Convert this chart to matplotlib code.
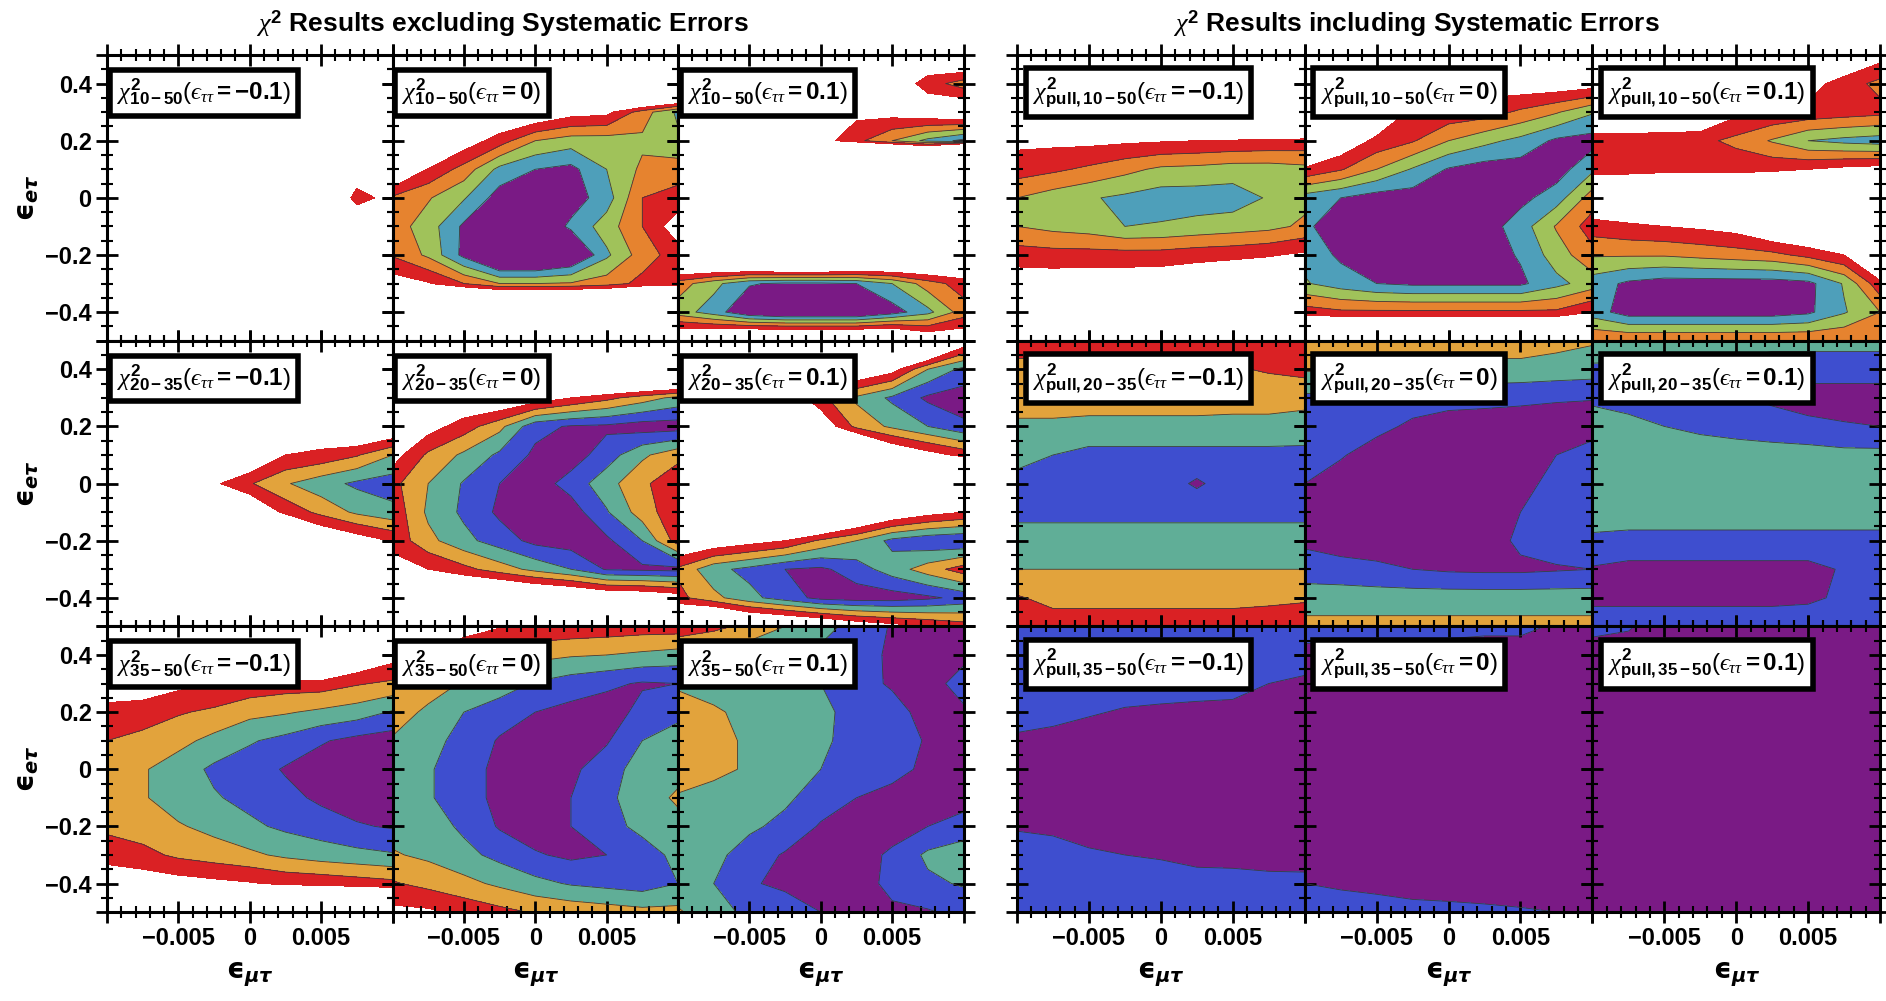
import numpy as np
import matplotlib.pyplot as plt
from matplotlib.ticker import MultipleLocator, FixedLocator, FixedFormatter

plt.rcParams['font.family'] = ['Liberation Sans', 'DejaVu Sans']
plt.rcParams['mathtext.fontset'] = 'custom'
plt.rcParams['mathtext.rm'] = 'Liberation Sans'
plt.rcParams['mathtext.it'] = 'Liberation Serif:italic'
plt.rcParams['mathtext.bf'] = 'Liberation Sans:bold'
plt.rcParams['mathtext.fallback'] = 'stix'

# scan grid (columns: eps_mu_tau, rows: eps_e_tau from top to bottom)
eps_mt = [-0.01, -0.0075, -0.005, -0.0025, 0.0, 0.0025, 0.005, 0.0075, 0.01]
eps_et = [0.5, 0.4, 0.3, 0.2, 0.1, 0.0, -0.1, -0.2, -0.3, -0.4, -0.5]

# confidence band index: 0 = best region ... 4 = outermost, > 4.5 excluded
chi_10_50_m = [
    [9, 9, 9, 9, 9, 9, 9, 9, 9],
    [9, 9, 9, 9, 9, 9, 9, 9, 9],
    [9, 9, 9, 9, 9, 9, 9, 9, 9],
    [9, 9, 9, 9, 9, 9, 9, 9, 9],
    [9, 9, 9, 9, 9, 9, 9, 5.5, 9],
    [9, 9, 9, 9, 9, 9, 7, 4.0, 5.0],
    [9, 9, 9, 9, 9, 9, 9, 6, 9],
    [9, 9, 9, 9, 9, 9, 9, 9, 9],
    [9, 9, 9, 9, 9, 9, 9, 9, 9],
    [9, 9, 9, 9, 9, 9, 9, 9, 9],
    [9, 9, 9, 9, 9, 9, 9, 9, 9],
]
chi_10_50_0 = [
    [9, 9, 9, 9, 9, 9, 9, 9, 9],
    [9, 9, 9, 9, 9, 9, 9, 12, 12],
    [9, 9, 9, 6, 5.8, 5.0, 4.8, 3.0, 1.3],
    [9, 9, 5.2, 4, 2.5, 2, 2, 2.3, 1.7],
    [6.5, 4.4, 3.1, 1.2, 0.5, 0.2, 1.5, 2.7, 3.0],
    [3.3, 2.6, 1.6, 0, -0.5, 0, 1.0, 3.5, 3.9],
    [3, 2, 0.3, -0.5, -0.5, 0.7, 2, 3.5, 5.2],
    [3.4, 2.3, 0.2, -2, -2, -1, 1.3, 3, 4.0],
    [5.1, 4.6, 3.5, 2.5, 2.5, 2.6, 3.0, 3.8, 4.1],
    [9, 12, 12, 12, 12, 12, 12, 12, 12],
    [9, 9, 9, 9, 9, 9, 9, 9, 9],
]
chi_10_50_p = [
    [9, 9, 9, 9, 9, 9, 9, 5.8, 6.8],
    [9, 9, 9, 9, 9, 9, 5.5, 4.0, 3.0],
    [9, 9, 9, 9, 9, 4.8, 5.0, 5.5, 6.0],
    [9, 9, 9, 9, 5.0, 3.8, 2.5, 1.2, 0.2],
    [20, 20, 20, 20, 20, 20, 20, 20, 40],
    [9, 9, 9, 9, 9, 9, 9, 9, 9],
    [9, 9, 9, 9, 9, 9, 9, 9, 9],
    [8, 9, 10, 10.8, 10.8, 10, 9, 8, 7],
    [3, 1.8, 0.6, 0.3, 0.3, 0.5, 1.5, 3, 4],
    [2, 1.0, -0.5, -1, -1, -1, 0, 1.2, 3],
    [6.5, 7, 8, 8.2, 8.2, 8.2, 8, 6, 5.7],
]
chi_20_35_m = [
    [9, 9, 9, 9, 9, 9, 9, 9, 9],
    [9, 9, 9, 9, 9, 9, 9, 9, 9],
    [9, 9, 9, 9, 9, 9, 9, 9, 9],
    [9, 9, 9, 9, 9, 9, 5.7, 6.6, 6],
    [9, 9, 9, 9, 6, 4.5, 4.2, 3.6, 2.5],
    [9, 9, 9, 4.7, 3.6, 2.6, 1.9, 1.3, 1.0],
    [9, 9, 9, 9, 6, 4.2, 3.2, 2.3, 1.8],
    [9, 9, 9, 9, 9, 9, 6, 5.2, 4.4],
    [9, 9, 9, 9, 9, 9, 9, 9, 9],
    [9, 9, 9, 9, 9, 9, 9, 9, 9],
    [9, 9, 9, 9, 9, 9, 9, 9, 9],
]
chi_20_35_0 = [
    [9, 9, 9, 9, 9, 9, 9, 9, 9],
    [9, 9, 9, 9, 9, 9, 10, 10, 10],
    [9, 9, 5.7, 5.9, 5.3, 4.5, 3.8, 3.0, 2.2],
    [9, 5, 4.0, 2.8, 0.8, 0.4, 0.3, 0, 0],
    [5.0, 3.3, 2.3, 1.3, 0.3, 0, 1.0, 2.3, 3.2],
    [3.8, 2.5, 1.4, 0.5, 0, 0.9, 2.1, 3.3, 4.2],
    [4.2, 2.3, 1.3, 0.3, 0, 0, 1.4, 3.0, 4.2],
    [4.2, 2.8, 1.8, 1.0, 0.2, 0, 0.3, 1.5, 4.0],
    [4.9, 4.5, 3.8, 3.0, 2.2, 1.5, 0.4, 0.3, 0.2],
    [9, 9, 7.3, 7.3, 6.8, 6.5, 6, 5.8, 5.3],
    [9, 9, 9, 9, 9, 9, 9, 9, 9],
]
chi_20_35_p = [
    [9, 9, 9, 9, 9, 9, 9, 9, 5.5],
    [9, 9, 9, 9, 9, 6, 5.0, 2.5, 1.2],
    [9, 9, 9, 5.5, 3.8, 2.3, 1.3, 0.3, 0],
    [9, 9, 9, 9, 5.5, 3.2, 2.3, 1.5, 0.7],
    [9, 9, 9, 9, 9, 9, 6, 5, 4.2],
    [9, 9, 9, 9, 9, 9, 9, 9, 9],
    [9, 9, 9, 9, 9, 7, 5.8, 5.0, 4.5],
    [6, 5.5, 5, 4.5, 3.3, 2.5, 1.2, 0.7, 0.5],
    [3.3, 1.8, 1.2, 0.5, 0.3, 1.0, 2.0, 3.0, 4.0],
    [3.8, 2.8, 1.8, 1.0, 0.2, 0, 0, 0.3, 0.8],
    [7.3, 8.5, 7.2, 6.8, 6.3, 5.5, 5.0, 4.5, 4.0],
]
chi_35_50_m = [
    [9, 9, 9, 9, 9, 9, 9, 9, 9],
    [9, 9, 9, 9, 9, 9, 9, 6, 5],
    [5.5, 5.2, 4.8, 4.5, 4.2, 4.0, 4.0, 3.6, 3.3],
    [4.0, 4.0, 3.6, 3.3, 2.8, 2.6, 2.3, 2.0, 1.4],
    [3.5, 3.2, 2.8, 2.2, 1.6, 1.2, 0.6, 0.2, 0],
    [3.0, 2.6, 2.0, 1.3, 1.0, 0.4, 0, -0.3, -0.5],
    [3.0, 2.6, 2.0, 1.6, 1.2, 0.8, 0.3, 0, 0],
    [3.3, 3.0, 2.6, 2.2, 1.7, 1.3, 1.0, 0.6, 0.4],
    [4.0, 3.8, 3.3, 3.0, 2.7, 2.3, 2.0, 1.8, 1.6],
    [5.5, 5.2, 5.0, 4.8, 4.6, 4.3, 4.2, 4.0, 3.8],
    [9, 9, 9, 9, 9, 9, 9, 9, 9],
]
chi_35_50_0 = [
    [9, 6, 5.2, 4.6, 4.3, 4.2, 4.1, 4.0, 4.0],
    [4.7, 4.3, 3.4, 3.0, 2.8, 2.6, 2.5, 2.3, 2.1],
    [3.2, 3.0, 2.4, 2.0, 1.4, 1.0, 0.7, 0.4, 0.5],
    [3.0, 2.3, 1.5, 1.0, 0.5, 0.2, 0, 0.8, 1.2],
    [2.4, 1.8, 1.2, 0.4, 0, 0, 0.4, 1.5, 2.0],
    [2.0, 1.6, 1.0, 0.2, 0, 0.3, 1.0, 2.0, 2.3],
    [2.0, 1.6, 1.0, 0.2, 0, 0.5, 1.2, 2.2, 2.6],
    [2.1, 2.0, 1.3, 0.4, 0, 0.5, 1.1, 1.8, 2.3],
    [2.6, 2.3, 1.8, 1.2, 0.6, 0.3, 0.5, 1.0, 1.8],
    [3.6, 3.2, 2.8, 2.3, 1.8, 1.4, 1.2, 1.0, 1.5],
    [4.8, 4.7, 4.2, 3.8, 3.4, 3.2, 3.0, 2.8, 2.8],
]
chi_35_50_p = [
    [4.2, 3.8, 3.2, 2.5, 1.8, 1.2, 0.4, 0, 0],
    [2.3, 2.0, 1.8, 1.6, 1.3, 1.0, 0.3, 0, 0.2],
    [2.4, 2.2, 2.0, 1.8, 1.5, 0.8, 0.4, 0, 1.0],
    [2.8, 2.6, 2.3, 2.0, 1.7, 1.2, 0.8, 0.2, 0.3],
    [3.0, 2.7, 2.4, 2.0, 1.6, 1.3, 1.0, 0.4, 0],
    [3.0, 2.7, 2.4, 2.0, 1.5, 1.2, 0.8, 0.3, 0],
    [2.4, 2.2, 2.0, 1.7, 1.0, 0.5, 0.2, 0, 0],
    [2.0, 1.9, 1.7, 1.2, 0.4, 0, 0, 0.5, 1.0],
    [2.0, 1.8, 1.0, 0.4, 0, 0, 0.7, 1.7, 2.0],
    [2.0, 1.5, 0.6, 0.3, 0, 0, 0.8, 1.3, 1.6],
    [2.6, 2.0, 1.2, 1.0, 0.5, 0.2, 0.3, 0.4, 0.8],
]

pull_10_50_m = [
    [9, 9, 9, 9, 9, 9, 9, 9, 9],
    [9, 9, 9, 9, 9, 9, 9, 9, 9],
    [9, 9, 9, 9, 9, 9, 9, 9, 9],
    [4.75, 4.77, 4.8, 4.7, 4.6, 4.5, 4.4, 4.3, 4.2],
    [4.0, 3.7, 3.3, 2.8, 2.3, 2.2, 2.0, 2.0, 2.2],
    [2.5, 2.0, 1.6, 1.3, 1.0, 1.0, 1.0, 1.6, 2.2],
    [2.5, 2.2, 2.0, 1.5, 1.6, 1.8, 2.0, 2.2, 2.7],
    [4.0, 3.9, 3.9, 3.9, 3.9, 4.1, 4.2, 4.4, 4.7],
    [5.2, 5.2, 5.3, 5.3, 5.4, 5.6, 6, 6, 9],
    [9, 9, 9, 9, 9, 9, 9, 9, 9],
    [9, 9, 9, 9, 9, 9, 9, 9, 9],
]
pull_10_50_0 = [
    [9, 9, 9, 9, 9, 9, 9, 9, 9],
    [9, 9, 9, 6, 5.5, 5.0, 5.3, 5.3, 5.1],
    [9, 9, 6, 4.2, 4.2, 4.0, 3.3, 2.6, 1.6],
    [6, 5.5, 4.2, 3.6, 2.5, 1.8, 1.2, 0.3, 0.1],
    [4.4, 3.6, 2.5, 1.4, 0.4, 0, 0, 0, 1.3],
    [1.0, 0.5, 0, 0, 0, 0, 0.2, 1.0, 3.0],
    [0.6, 0.2, 0, 0, 0, 0, 1.0, 2.6, 4.0],
    [1.2, 0.3, 0, 0, 0, 0, 0.6, 2.0, 3.2],
    [1.6, 1.0, 0.5, 0.3, 0.3, 0.3, 0.3, 1.2, 2.0],
    [4.0, 3.7, 3.7, 3.7, 3.7, 3.7, 3.7, 3.7, 4.5],
    [9, 9, 9, 9, 9, 9, 9, 9, 9],
]
pull_10_50_p = [
    [9, 9, 9, 9, 9, 9, 7, 6, 5.0],
    [9, 9, 9, 9, 9, 9, 5.0, 4.0, 3.2],
    [6, 6, 6, 6, 4.8, 4.4, 4.2, 4.0, 3.8],
    [4.0, 4.0, 3.9, 3.8, 3.2, 2.4, 1.5, 1.2, 1.0],
    [4.2, 4.2, 4.3, 4.3, 4.3, 4.3, 4.5, 4.8, 5.0],
    [6, 6, 6, 6, 6, 7, 9, 9, 9],
    [4.0, 4.3, 4.5, 4.7, 5, 6, 6.5, 7, 9],
    [2.6, 2.6, 2.6, 2.8, 3.0, 3.2, 3.8, 4.5, 7],
    [1.0, 0.3, 0, 0, 0, 0, 0.2, 1.6, 4.2],
    [1.0, 0, 0, 0, 0, 0, 0.3, 1.4, 2.5],
    [3.5, 3.5, 3.5, 3.5, 3.5, 3.5, 3.5, 3.5, 3.5],
]
pull_20_35_m = [
    [4.0, 4.0, 4.0, 4.0, 4.0, 4.0, 4.0, 4.0, 4.0],
    [3.2, 3.2, 3.2, 3.2, 3.3, 3.3, 3.4, 3.6, 3.8],
    [3.0, 3.0, 3.0, 3.0, 3.0, 3.0, 2.9, 2.9, 2.8],
    [2.3, 2.3, 2.2, 2.2, 2.2, 2.2, 2.2, 2.2, 2.1],
    [2.0, 1.5, 1.2, 1.2, 1.2, 1.2, 1.2, 1.2, 1.2],
    [1.0, 1.0, 1.0, 1.0, 1.0, 0.35, 1.0, 1.0, 1.0],
    [1.2, 1.2, 1.2, 1.2, 1.2, 1.2, 1.2, 1.2, 1.2],
    [2.0, 2.0, 2.0, 2.0, 2.0, 2.0, 2.0, 2.0, 2.0],
    [2.5, 2.5, 2.5, 2.5, 2.5, 2.5, 2.5, 2.5, 2.5],
    [3.6, 3.2, 3.2, 3.2, 3.2, 3.2, 3.2, 3.3, 3.4],
    [4.0, 4.0, 4.0, 4.0, 4.0, 4.0, 4.0, 4.0, 4.0],
]
pull_20_35_0 = [
    [3.0, 3.0, 3.0, 3.0, 3.0, 3.0, 3.0, 2.8, 2.6],
    [2.6, 2.6, 2.5, 2.4, 2.2, 2.2, 2.2, 2.1, 2.0],
    [1.3, 1.3, 1.2, 1.0, 0.9, 0.8, 0.7, 0.6, 0.55],
    [1.2, 1.0, 0.8, 0.3, 0, 0, 0, 0, 0],
    [1.0, 0.6, 0, 0, 0, 0, 0, 0.5, 1.0],
    [0.5, 0, 0, 0, 0, 0, 0.2, 0.8, 1.0],
    [0.3, 0, 0, 0, 0, 0, 0.5, 1.0, 1.1],
    [0.3, 0, 0, 0, 0, 0, 0.7, 1.0, 1.0],
    [1.0, 0.9, 0.7, 0.5, 0.35, 0.3, 0.3, 0.4, 0.5],
    [2.0, 2.0, 2.0, 2.0, 2.0, 2.0, 2.0, 2.0, 2.0],
    [2.8, 2.8, 2.8, 2.8, 2.8, 2.8, 2.8, 2.8, 2.8],
]
pull_20_35_p = [
    [2.6, 2.4, 2.2, 2.0, 2.0, 1.8, 1.8, 1.8, 1.8],
    [1.2, 1.2, 1.2, 1.2, 1.2, 1.0, 1.0, 1.0, 1.0],
    [1.3, 1.1, 1.0, 1.0, 0.6, 0.3, 0, 0, 0],
    [2.0, 1.8, 1.5, 1.3, 1.1, 1.0, 0.8, 0.6, 0.5],
    [2.2, 2.2, 2.1, 2.0, 2.0, 1.9, 1.9, 1.8, 1.8],
    [2.2, 2.2, 2.2, 2.2, 2.2, 2.2, 2.2, 2.2, 2.2],
    [2.0, 2.0, 2.0, 2.0, 2.0, 2.0, 2.0, 2.0, 2.0],
    [1.3, 1.2, 1.2, 1.2, 1.2, 1.2, 1.2, 1.2, 1.2],
    [0.4, 0.2, 0.2, 0.2, 0.2, 0.2, 0.2, 0.6, 0.9],
    [0.2, 0.2, 0.2, 0.2, 0.2, 0.2, 0.3, 0.7, 1.1],
    [1.2, 1.2, 1.2, 1.2, 1.2, 1.2, 1.2, 1.1, 1.0],
]
pull_35_50_m = [
    [1.0, 1.0, 1.0, 1.0, 1.0, 1.0, 1.0, 1.0, 1.0],
    [1.0, 1.0, 1.0, 1.0, 1.0, 1.0, 1.0, 1.0, 1.0],
    [1.0, 1.0, 1.0, 1.0, 1.0, 1.0, 1.0, 0.5, 0.3],
    [1.0, 0.9, 0.6, 0.4, 0.3, 0.2, 0.1, 0, 0],
    [0.3, 0.1, 0, 0, 0, 0, 0, 0, 0],
    [0, 0, 0, 0, 0, 0, 0, 0, 0],
    [0, 0, 0, 0, 0, 0, 0, 0, 0],
    [0.4, 0.3, 0.2, 0.2, 0.2, 0.2, 0.2, 0.2, 0.2],
    [1.0, 0.9, 0.6, 0.5, 0.4, 0.2, 0.15, 0.1, 0.05],
    [1.0, 1.0, 1.0, 1.0, 1.0, 0.9, 0.9, 0.8, 0.8],
    [1.0, 1.0, 1.0, 1.0, 1.0, 1.0, 1.0, 1.0, 1.0],
]
pull_35_50_0 = [
    [1.1, 1.0, 0.9, 0.9, 0.8, 0.7, 0.7, 0.4, 0.3],
    [0.1, 0.1, 0.1, 0.1, 0.1, 0.1, 0.1, 0.1, 0.1],
    [0, 0, 0, 0, 0, 0, 0, 0, 0],
    [0, 0, 0, 0, 0, 0, 0, 0, 0],
    [0, 0, 0, 0, 0, 0, 0, 0, 0],
    [0, 0, 0, 0, 0, 0, 0, 0, 0],
    [0, 0, 0, 0, 0, 0, 0, 0, 0],
    [0, 0, 0, 0, 0, 0, 0, 0, 0],
    [0, 0, 0, 0, 0, 0, 0, 0, 0],
    [0.5, 0.3, 0.2, 0, 0, 0, 0, 0, 0],
    [1.5, 1.2, 1.0, 0.9, 0.8, 0.7, 0.6, 0.5, 0.4],
]
pull_35_50_p = [
    [0.8, 0.6, 0, 0, 0, 0, 0, 0, 0],
    [0, 0, 0, 0, 0, 0, 0, 0, 0],
    [0, 0, 0, 0, 0, 0, 0, 0, 0],
    [0, 0, 0, 0, 0, 0, 0, 0, 0],
    [0, 0, 0, 0, 0, 0, 0, 0, 0],
    [0, 0, 0, 0, 0, 0, 0, 0, 0],
    [0, 0, 0, 0, 0, 0, 0, 0, 0],
    [0, 0, 0, 0, 0, 0, 0, 0, 0],
    [0, 0, 0, 0, 0, 0, 0, 0, 0],
    [0, 0, 0, 0, 0, 0, 0, 0, 0],
    [0, 0, 0, 0, 0, 0, 0, 0, 0],
]

no_sys = [[chi_10_50_m, chi_10_50_0, chi_10_50_p],
          [chi_20_35_m, chi_20_35_0, chi_20_35_p],
          [chi_35_50_m, chi_35_50_0, chi_35_50_p]]
with_sys = [[pull_10_50_m, pull_10_50_0, pull_10_50_p],
            [pull_20_35_m, pull_20_35_0, pull_20_35_p],
            [pull_35_50_m, pull_35_50_0, pull_35_50_p]]

bins = ['10-50', '20-35', '35-50']
ett_labels = ['-0.1', '0', '0.1']

x_ticks = [-0.01, -0.005, 0, 0.005, 0.01]
x_ticklabels = ['', '\u22120.005', '0', '0.005', '']
y_ticks = [-0.5, -0.4, -0.2, 0, 0.2, 0.4, 0.5]
y_ticklabels = ['', '\u22120.4', '\u22120.2', '0', '0.2', '0.4', '']

# colours from best region to outermost
colors_wide = ['#7a1a85', '#4e9fba', '#a0c25a', '#e6832f', '#da2124']
colors_narrow = ['#7a1a85', '#3e4ecf', '#60ae97', '#e2a33c', '#da2124']
levels = [-5, 0.5, 1.5, 2.5, 3.5, 4.5]

fig = plt.figure(figsize=(18.86, 10.01), dpi=100)

W, H = 1886.0, 1001.0
group_left = [107.0, 1017.0]
panel_w = [285.5, 287.7]
panel_h = 285.7
top = 55.0

X = np.array(eps_mt)
Y = np.array(eps_et)[::-1]


def draw_panel(ax, grid, colors, label, text_x):
    Z = np.array(grid, dtype=float)[::-1]
    ax.contourf(X, Y, Z, levels=levels, colors=colors)
    ax.contour(X, Y, Z, levels=levels[1:-1], colors='#3c3c3c', linewidths=0.6)
    ax.set_xlim(-0.01, 0.01)
    ax.set_ylim(-0.5, 0.5)
    ax.xaxis.set_major_locator(FixedLocator(x_ticks))
    ax.xaxis.set_major_formatter(FixedFormatter(x_ticklabels))
    ax.xaxis.set_minor_locator(MultipleLocator(0.001))
    ax.yaxis.set_major_locator(FixedLocator(y_ticks))
    ax.yaxis.set_major_formatter(FixedFormatter(y_ticklabels))
    ax.yaxis.set_minor_locator(MultipleLocator(0.05))
    ax.tick_params(which='major', direction='inout', length=16, width=2,
                   top=True, right=True, labelsize=17, pad=3)
    ax.tick_params(which='minor', direction='inout', length=8, width=1.5,
                   top=True, right=True)
    for lab in ax.get_xticklabels() + ax.get_yticklabels():
        lab.set_fontweight('bold')
    for sp in ax.spines.values():
        sp.set_linewidth(2.2)
    ax.text(text_x, 0.868, label, transform=ax.transAxes, ha='left', va='center',
            fontsize=17.5, zorder=10,
            bbox=dict(boxstyle='square,pad=0.3', fc='white', ec='black', lw=4))


for g, grids in enumerate([no_sys, with_sys]):
    for r in range(3):
        for c in range(3):
            left = group_left[g] + c * panel_w[g]
            bottom = H - (top + (r + 1) * panel_h)
            ax = fig.add_axes([left / W, bottom / H, panel_w[g] / W, panel_h / H])
            sub = bins[r] if g == 0 else 'pull,' + bins[r]
            label = (r'$\chi^{\mathbf{2}}_{\mathbf{' + sub + r'}}(ϵ_{\tau\tau}\mathbf{='
                     + ett_labels[c] + r'})$')
            colors = colors_wide if r == 0 else colors_narrow
            draw_panel(ax, grids[r][c], colors, label, 0.035 if g == 0 else 0.055)
            ax.tick_params(labelleft=(g == 0 and c == 0), labelbottom=(r == 2))
            if r == 2:
                fig.text((left + panel_w[g] / 2) / W, 1 - 975 / H,
                         r'$\boldsymbol{ϵ}_{\boldsymbol{\mu\tau}}$',
                         ha='center', va='center', fontsize=20,
                         math_fontfamily='dejavusans')
        if g == 0:
            fig.text(28 / W, 1 - (top + (r + 0.5) * panel_h) / H,
                     r'$\boldsymbol{ϵ}_{\boldsymbol{e\tau}}$',
                     rotation=90, ha='center', va='center', fontsize=20,
                     math_fontfamily='dejavusans')

fig.text(502 / W, 1 - 32 / H, r'$\chi^{\mathbf{2}}$ Results excluding Systematic Errors',
         ha='center', va='baseline', fontsize=19, fontweight='bold')
fig.text(1416 / W, 1 - 32 / H, r'$\chi^{\mathbf{2}}$ Results including Systematic Errors',
         ha='center', va='baseline', fontsize=19, fontweight='bold')

fig.savefig('out.png', dpi=100)
